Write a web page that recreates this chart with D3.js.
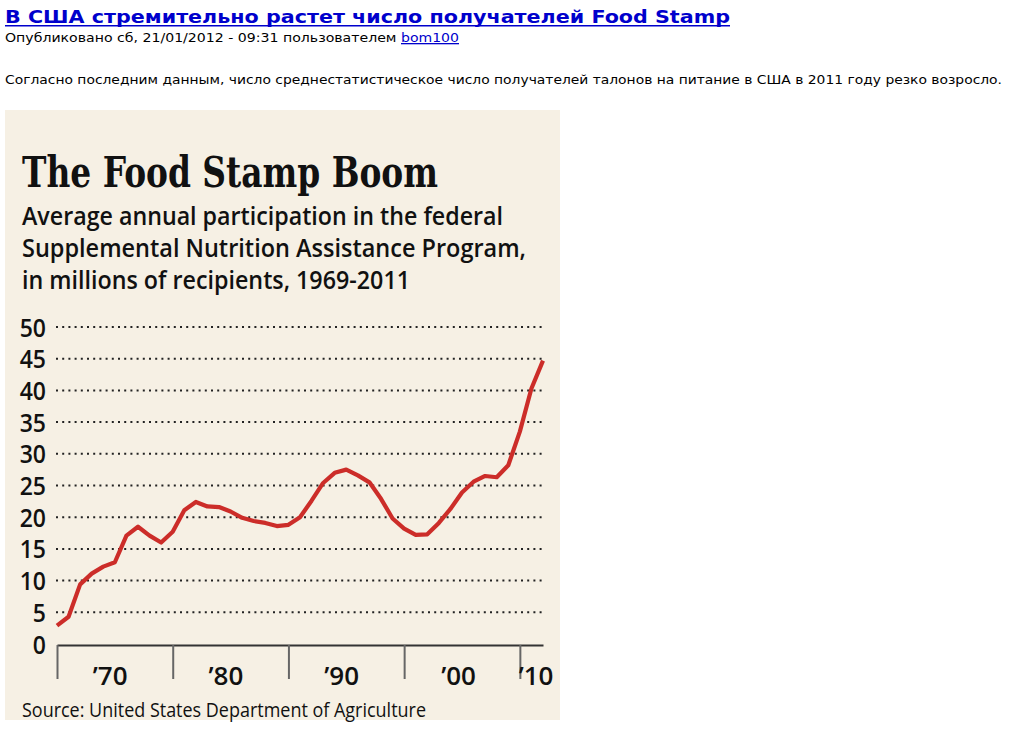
<!DOCTYPE html>
<html>
<head>
<meta charset="utf-8">
<script src="https://cdn.jsdelivr.net/npm/d3@7"></script>
<style>
  html, body { margin: 0; padding: 0; background: #fff; }
  svg { display: block; }
</style>
</head>
<body>
<svg id="chart" width="1013" height="739"></svg>
<script>
// ---- data ----
const years = [1969,1970,1971,1972,1973,1974,1975,1976,1977,1978,1979,1980,1981,1982,1983,1984,1985,1986,1987,1988,1989,1990,1991,1992,1993,1994,1995,1996,1997,1998,1999,2000,2001,2002,2003,2004,2005,2006,2007,2008,2009,2010,2011];
const participants = [2.9,4.3,9.4,11.1,12.2,12.9,17.1,18.5,17.1,16.0,17.7,21.1,22.4,21.7,21.6,20.9,19.9,19.4,19.1,18.6,18.8,20.0,22.6,25.4,27.0,27.5,26.6,25.5,22.9,19.8,18.2,17.2,17.3,19.1,21.3,23.9,25.6,26.5,26.3,28.2,33.5,40.3,44.7];
const yTicks = [0,5,10,15,20,25,30,35,40,45,50];
const xTickYears = [1969,1979,1989,1999,2009];
const decadeLabels = ["\u201970","\u201980","\u201990","\u201900","\u201910"];
const decadeLabelYears = [1973.6,1983.6,1993.6,2003.7,2010.4];

const pageTitle = "В США стремительно растет число получателей Food Stamp";
const metaText = "Опубликовано сб, 21/01/2012 - 09:31 пользователем ";
const metaUser = "bom100";
const bodyText = "Согласно последним данным, число среднестатистическое число получателей талонов на питание в США в 2011 году резко возросло.";
const chartTitle = "The Food Stamp Boom";
const subtitleLines = ["Average annual participation in the federal","Supplemental Nutrition Assistance Program,","in millions of recipients, 1969-2011"];
const sourceText = "Source: United States Department of Agriculture";

// ---- drawing ----
const svg = d3.select("#chart");
const blue = "#0000cc";

// page header
svg.append("text").attr("x", 5).attr("y", 23)
  .attr("font-family", "DejaVu Sans, Verdana, sans-serif").attr("font-weight", "bold")
  .attr("font-size", 18).attr("fill", blue)
  .attr("textLength", 725).attr("lengthAdjust", "spacingAndGlyphs")
  .text(pageTitle);
svg.append("rect").attr("x", 5).attr("y", 25).attr("width", 725).attr("height", 1.5).attr("fill", blue);

const meta = svg.append("text").attr("x", 5).attr("y", 42)
  .attr("font-family", "DejaVu Sans, Verdana, sans-serif").attr("font-size", 13).attr("fill", "#000");
meta.append("tspan").attr("textLength", 396).attr("lengthAdjust", "spacingAndGlyphs").text(metaText);
meta.append("tspan").attr("fill", blue).attr("text-decoration", "underline")
  .attr("textLength", 58).attr("lengthAdjust", "spacingAndGlyphs").text(metaUser);

svg.append("text").attr("x", 5).attr("y", 84)
  .attr("font-family", "DejaVu Sans, Verdana, sans-serif").attr("font-size", 12.5).attr("fill", "#000")
  .attr("textLength", 997).attr("lengthAdjust", "spacingAndGlyphs")
  .text(bodyText);

// panel
svg.append("rect").attr("x", 5).attr("y", 110).attr("width", 555).attr("height", 610).attr("fill", "#f6f0e4");

svg.append("text").attr("x", 22).attr("y", 187)
  .attr("font-family", "DejaVu Serif, serif").attr("font-weight", "bold")
  .attr("font-size", 42).attr("fill", "#111")
  .attr("textLength", 416).attr("lengthAdjust", "spacingAndGlyphs")
  .text(chartTitle);

const subLens = [481, 504, 388];
svg.append("g").selectAll("text").data(subtitleLines).join("text")
  .attr("x", 22).attr("y", (d, i) => 225 + i * 32)
  .attr("font-family", "Open Sans, sans-serif").attr("font-weight", 600)
  .attr("font-size", 25).attr("fill", "#111")
  .attr("textLength", (d, i) => subLens[i]).attr("lengthAdjust", "spacingAndGlyphs")
  .text(d => d);

// scales
const x = d3.scaleLinear().domain([1969, 2011]).range([57, 543]);
const y = d3.scaleLinear().domain([0, 50]).range([644, 327]);

// grid (dotted)
svg.append("g").selectAll("line").data(yTicks.filter(v => v > 0)).join("line")
  .attr("x1", 56).attr("x2", 544)
  .attr("y1", d => y(d)).attr("y2", d => y(d))
  .attr("stroke", "#222").attr("stroke-width", 2)
  .attr("stroke-dasharray", "2 4.2");

// y axis labels
const yAxis = d3.axisLeft(y).tickValues(yTicks).tickSize(0).tickPadding(0);
const gy = svg.append("g").attr("transform", "translate(46,0)").call(yAxis);
gy.select(".domain").remove();
gy.selectAll("text")
  .attr("font-family", "Open Sans, sans-serif").attr("font-weight", 600)
  .attr("font-size", 25).attr("fill", "#111").attr("dy", "0.36em")
  .attr("transform", "scale(0.92,1)");

// x axis
const xAxis = d3.axisBottom(x).tickValues(xTickYears).tickSize(34).tickSizeOuter(0).tickFormat("");
const gx = svg.append("g").attr("transform", "translate(0,645)").call(xAxis);
gx.select(".domain").attr("stroke", "#333").attr("stroke-width", 2.2);
gx.selectAll(".tick line").attr("stroke", "#666").attr("stroke-width", 2);

svg.append("g").selectAll("text").data(decadeLabels).join("text")
  .attr("x", (d, i) => x(decadeLabelYears[i])).attr("y", 685)
  .attr("text-anchor", "middle")
  .attr("font-family", "Open Sans, sans-serif").attr("font-weight", 600)
  .attr("font-size", 26).attr("fill", "#111")
  .text(d => d);

// line
const line = d3.line().x((d, i) => x(years[i])).y(d => y(d));
svg.append("path").datum(participants)
  .attr("d", line).attr("fill", "none")
  .attr("stroke", "#cc2d29").attr("stroke-width", 4.2)
  .attr("stroke-linejoin", "round");

// source
svg.append("text").attr("x", 22).attr("y", 717)
  .attr("font-family", "Open Sans, sans-serif").attr("font-weight", 500).attr("font-size", 20).attr("fill", "#111")
  .attr("textLength", 404).attr("lengthAdjust", "spacingAndGlyphs")
  .text(sourceText);
</script>
</body>
</html>
